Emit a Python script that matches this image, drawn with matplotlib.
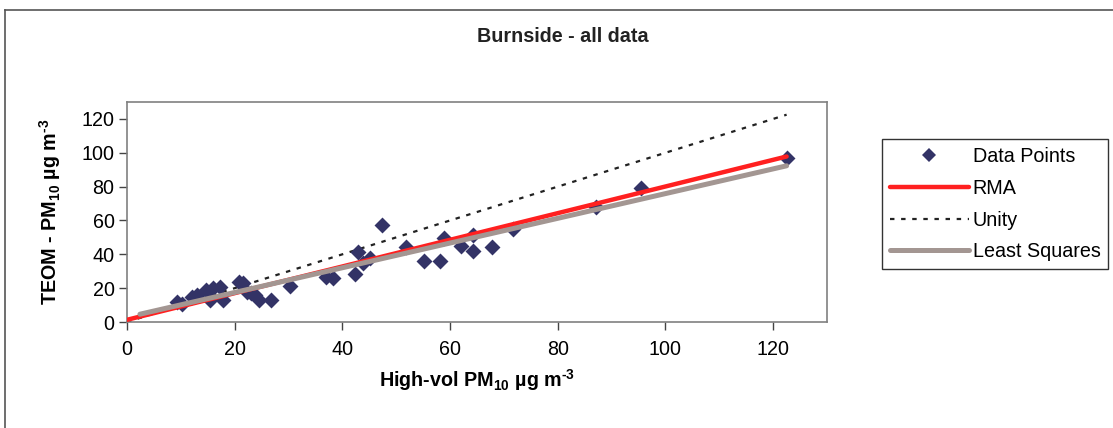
import matplotlib
matplotlib.use("Agg")
import matplotlib.pyplot as plt
from matplotlib.lines import Line2D

plt.rcParams["font.family"] = ["Liberation Sans", "DejaVu Sans"]
plt.rcParams["mathtext.fontset"] = "custom"
plt.rcParams["mathtext.rm"] = "Liberation Sans"
plt.rcParams["mathtext.bf"] = "Liberation Sans:bold"

# data
hivol = [9.3, 10.2, 12.0, 13.0, 14.6, 15.5, 16.0, 17.2, 17.8, 20.8, 21.5, 22.2,
         23.0, 23.7, 24.6, 26.8, 30.2, 37.0, 38.3, 42.4, 42.9, 43.8, 45.1, 47.3,
         51.8, 55.1, 58.1, 58.8, 62.1, 64.2, 64.3, 67.8, 71.7, 87.1, 95.4, 122.5]
teom = [11.8, 10.5, 14.8, 16.0, 18.7, 12.8, 20.0, 20.7, 12.8, 23.6, 23.0, 17.7,
        17.0, 15.8, 12.8, 12.8, 21.1, 26.6, 26.2, 28.6, 41.4, 35.0, 38.0, 57.2,
        44.3, 36.3, 35.9, 49.5, 45.1, 51.3, 42.2, 44.5, 55.2, 68.0, 79.4, 96.8]

rma_x = [0.0, 122.5]
rma_y = [1.3, 97.8]
unity_x = [0.0, 122.5]
unity_y = [0.0, 122.5]
lsq_x = [2.4, 122.5]
lsq_y = [4.6, 92.3]

xticks = [0, 20, 40, 60, 80, 100, 120]
yticks = [0, 20, 40, 60, 80, 100, 120]

W, H = 1113, 428
fig = plt.figure(figsize=(W / 100, H / 100), dpi=100)
ax = fig.add_axes([127 / W, 1 - 322 / H, 700 / W, 220 / H])

fs = 14.2
ax.plot(unity_x, unity_y, color="#222222", lw=1.6, ls=(0, (2, 3)), zorder=2)
ax.scatter(hivol, teom, marker="D", s=66, color="#333366", linewidths=0, zorder=3)
ax.plot(rma_x, rma_y, color="#ff2020", lw=3.2, solid_capstyle="round", zorder=4)
ax.plot(lsq_x, lsq_y, color="#a39692", lw=3.6, solid_capstyle="round", zorder=5)

ax.set_xlim(0, 130)
ax.set_ylim(0, 130)
ax.set_xticks(xticks)
ax.set_yticks(yticks)
ax.tick_params(labelsize=fs, length=6, width=1, color="#444444", direction="out")
ax.tick_params(axis="x", pad=7)
ax.tick_params(axis="y", pad=3)
for sp in ax.spines.values():
    sp.set_color("#808080")
    sp.set_linewidth(1.2)

ax.set_xlabel("High-vol PM$_{\\mathbf{10}}$ µg m$^{\\mathbf{\u20103}}$",
              fontsize=fs, fontweight="bold", labelpad=6)
ax.set_ylabel("TEOM - PM$_{\\mathbf{10}}$ µg m$^{\\mathbf{\u20103}}$",
              fontsize=fs, fontweight="bold", labelpad=13)

fig.text(563 / W, 1 - 37 / H, "Burnside - all data", ha="center", va="center",
         fontsize=fs, fontweight="bold", color="#222222")

handles = [
    Line2D([], [], ls="none", marker="D", ms=7, color="#333366", mew=0),
    Line2D([], [], color="#ff2020", lw=3.2, solid_capstyle="round"),
    Line2D([], [], color="#222222", lw=1.6, ls=(0, (2, 3))),
    Line2D([], [], color="#a39692", lw=3.6, solid_capstyle="round"),
]
labels = ["Data Points", "RMA", "Unity", "Least Squares"]
leg = fig.legend(handles, labels, loc="upper left",
                 bbox_to_anchor=(882 / W, 1 - 139 / H), borderaxespad=0,
                 fontsize=fs, frameon=True, fancybox=False, handlelength=4.0,
                 handletextpad=0.2, borderpad=0.4, labelspacing=0.65)
leg.get_frame().set_edgecolor("#000000")
leg.get_frame().set_linewidth(1.0)

# outer chart border (left and top edges visible)
fig.add_artist(Line2D([5 / W, 5 / W], [0, 1 - 10 / H], color="#555555", lw=1.2,
                      transform=fig.transFigure))
fig.add_artist(Line2D([5 / W, 1], [1 - 10 / H, 1 - 10 / H], color="#555555", lw=1.2,
                      transform=fig.transFigure))

fig.savefig("out.png", dpi=100)
